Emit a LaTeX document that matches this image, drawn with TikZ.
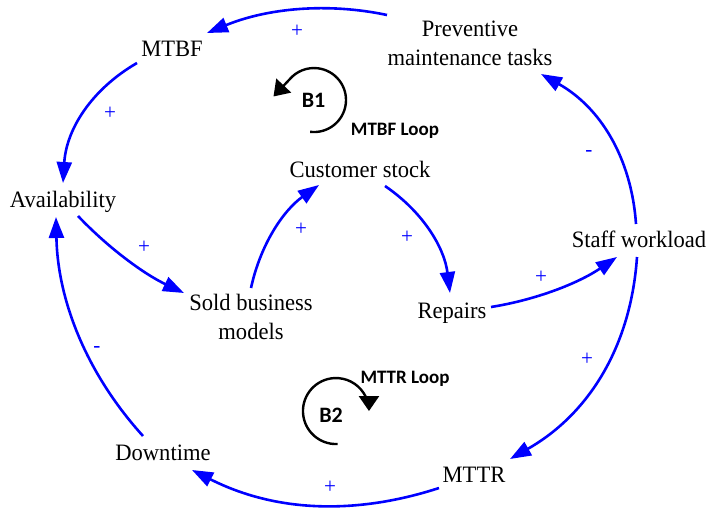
\documentclass[tikz,border=0pt]{standalone}
\usepackage{fontspec}
\setmainfont{Liberation Serif}[FakeStretch=0.96]
\newfontfamily\loopfont{Carlito}
\usetikzlibrary{arrows.meta,calc}

\definecolor{linkblue}{RGB}{0,0,255}

\begin{document}
\begin{tikzpicture}[x=1pt,y=-1pt,
  var/.style={font=\fontsize{23.5}{29}\selectfont, inner sep=0pt, align=center},
  link/.style={draw=linkblue, line width=2.6pt, -{Triangle[length=21pt,width=15pt]}},
  sign/.style={text=linkblue, font=\fontsize{22}{22}\selectfont, inner sep=0pt, anchor=base},
  looparc/.style={line width=2.4pt, -{Triangle[length=15pt,width=20pt]}},
  looptag/.style={font=\loopfont\bfseries\fontsize{22}{22}\selectfont, inner sep=0pt, anchor=base},
  loopname/.style={font=\loopfont\bfseries\fontsize{19}{19}\selectfont, inner sep=0pt, anchor=base}]

\useasboundingbox (0,0) rectangle (709,508);

% variables
\node[var, anchor=base]  (mtbf)    at (172,57)  {MTBF};
\node[var, anchor=north] (prev)    at (470,21)  {Preventive\\maintenance tasks};
\node[var, anchor=base]  (avail)   at (63,207)  {Availability};
\node[var, anchor=base]  (cust)    at (360,177) {Customer stock};
\node[var, anchor=north] (sold)    at (251,294) {Sold business\\models};
\node[var, anchor=base]  (repairs) at (452,318) {Repairs};
\node[var, anchor=base]  (staff)   at (639,247) {Staff workload};
\node[var, anchor=base]  (down)    at (163,460) {Downtime};
\node[var, anchor=base]  (mttr)    at (474,482) {MTTR};

% loop markers
\node[looptag]  (b1) at (313.5,108) {B1};
\node[loopname] (b1name) at (395,135.5) {MTBF Loop};
\node[looptag]  (b2) at (331,422) {B2};
\node[loopname] (b2name) at (405,383) {MTTR Loop};

\draw[looparc] ($(b1.base)+(-3.4,23.8)$) arc[start angle=97, end angle=-140, radius=32] -- ++(-16,17);
\draw[looparc] ($(b2.base)+(6.7,22)$) arc[start angle=87, end angle=360, radius=33];

% causal links
\draw[link] ($(prev.north)+(-83,-6)$) .. controls (327,2.3) and (267,8.3) .. ($(mtbf.base)+(35,-24)$);
\draw[link] ($(mtbf.base)+(-35,6)$) .. controls (91,89.7) and (66.3,129.7) .. ($(avail.base)+(0,-24)$);
\draw[link] ($(avail.base)+(15,9)$) .. controls (108.7,248.3) and (144,274) .. ($(sold.north)+(-67,-1)$);
\draw[link] ($(sold.north)+(0,-6)$) .. controls (260.3,245) and (283,210.7) .. ($(cust.base)+(-41,8)$);
\draw[link] ($(cust.base)+(25,9)$) .. controls (422.7,211.7) and (444.3,247.3) .. ($(repairs.base)+(-2,-25)$);
\draw[link] ($(repairs.base)+(39,-11)$) .. controls (536.7,299.7) and (578.7,283) .. ($(staff.base)+(-22,10)$);
\draw[link] ($(staff.base)+(-3,-23)$) .. controls (631.3,157) and (599.7,107) .. ($(prev.north)+(71,53)$);
\draw[link] ($(staff.base)+(-2,10)$) .. controls (630.8,347) and (588.5,414.3) .. ($(mttr.base)+(36,-23)$);
\draw[link] ($(mttr.base)+(-35,6)$) .. controls (363,512.8) and (281,515) .. ($(down.base)+(29,10)$);
\draw[link] ($(down.base)+(-20,-24)$) .. controls (86.7,373.8) and (57.7,300.8) .. ($(avail.base)+(-7,10)$);

% polarities
\node[sign] (s1)  at (297,37.5)  {+};
\node[sign] (s2)  at (110,119.5) {+};
\node[sign] (s3)  at (144,253.5) {+};
\node[sign] (s4)  at (301,235.5) {+};
\node[sign] (s5)  at (407,243.5) {+};
\node[sign] (s6)  at (541,283.5) {+};
\node[sign] (s7)  at (589,157)   {-};
\node[sign] (s8)  at (587,365.5) {+};
\node[sign] (s9)  at (330,493.5) {+};
\node[sign] (s10) at (97,352)    {-};
\end{tikzpicture}
\end{document}
